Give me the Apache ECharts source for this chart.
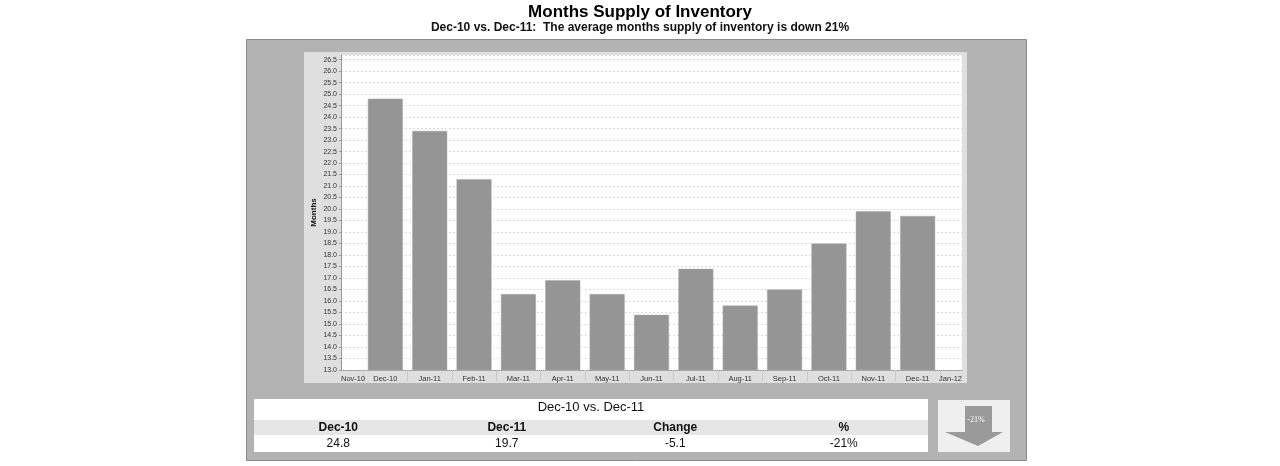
<!DOCTYPE html>
<html>
<head>
<meta charset="utf-8">
<script src="https://cdn.jsdelivr.net/npm/echarts@6/dist/echarts.min.js"></script>
<style>
html,body{margin:0;padding:0;background:#ffffff;}
#chart{width:1280px;height:466px;}
</style>
</head>
<body>
<div id="chart"></div>
<script>
// ---- data ----
const months = ['Nov-10','Dec-10','Jan-11','Feb-11','Mar-11','Apr-11','May-11','Jun-11','Jul-11','Aug-11','Sep-11','Oct-11','Nov-11','Dec-11','Jan-12'];
const supply = [null, 24.8, 23.4, 21.3, 16.3, 16.9, 16.3, 15.4, 17.4, 15.8, 16.5, 18.5, 19.9, 19.7, null];
const titleText = 'Months Supply of Inventory';
const subtitleText = 'Dec-10 vs. Dec-11:  The average months supply of inventory is down 21%';
const yAxisName = 'Months';
const tableTitle = 'Dec-10 vs. Dec-11';
const tableHeaders = ['Dec-10', 'Dec-11', 'Change', '%'];
const tableValues = ['24.8', '19.7', '-5.1', '-21%'];
const arrowLabel = '-21%';

const chart = echarts.init(document.getElementById('chart'));

const barData = [];
supply.forEach((v, i) => { if (v !== null) barData.push([i, v]); });

const tableLeft = 254, tableWidth = 674, colW = tableWidth / tableHeaders.length;
const graphics = [
  // outer panel
  { type: 'rect', z: -10, shape: { x: 246.5, y: 39.5, width: 780, height: 421 }, style: { fill: '#b3b3b3', stroke: '#8a8a8a', lineWidth: 1 } },
  // chart panel
  { type: 'rect', z: -9, shape: { x: 304, y: 52, width: 663, height: 331 }, style: { fill: '#dfdfdf' } },
  // table rows
  { type: 'rect', z: -9, shape: { x: tableLeft, y: 399, width: tableWidth, height: 21 }, style: { fill: '#ffffff' } },
  { type: 'rect', z: -9, shape: { x: tableLeft, y: 420, width: tableWidth, height: 15 }, style: { fill: '#e6e6e6' } },
  { type: 'rect', z: -9, shape: { x: tableLeft, y: 435, width: tableWidth, height: 17 }, style: { fill: '#ffffff' } },
  // arrow box
  { type: 'rect', z: -9, shape: { x: 938, y: 400, width: 72, height: 52 }, style: { fill: '#efefef' } },
  { type: 'polygon', z: -8, shape: { points: [[965,406],[992,406],[992,432],[1003,432],[978,446],[945,432],[965,432]] }, style: { fill: '#9a9a9a' } },
  { type: 'text', z: -7, style: { text: arrowLabel, x: 976, y: 420, fill: '#ffffff', font: '8px "Liberation Serif"', align: 'center', verticalAlign: 'middle' } },
  { type: 'text', z: -7, style: { text: tableTitle, x: tableLeft + tableWidth / 2, y: 407, fill: '#111', font: '13px "Liberation Sans"', align: 'center', verticalAlign: 'middle' } }
];
tableHeaders.forEach((h, i) => {
  graphics.push({ type: 'text', z: -7, style: { text: h, x: tableLeft + colW * (i + 0.5), y: 428, fill: '#111', font: 'bold 12px "Liberation Sans"', align: 'center', verticalAlign: 'middle' } });
});
tableValues.forEach((v, i) => {
  graphics.push({ type: 'text', z: -7, style: { text: v, x: tableLeft + colW * (i + 0.5), y: 444, fill: '#111', font: '12px "Liberation Sans"', align: 'center', verticalAlign: 'middle' } });
});

chart.setOption({
  animation: false,
  backgroundColor: '#ffffff',
  title: [
    { text: titleText, left: 'center', top: 4, padding: 0, textStyle: { fontFamily: 'Liberation Sans', fontWeight: 'bold', fontSize: 17, color: '#000' } },
    { text: subtitleText, left: 'center', top: 22, padding: 0, textStyle: { fontFamily: 'Liberation Sans', fontWeight: 'bold', fontSize: 12, color: '#111' } }
  ],
  grid: { left: 341, right: 318, top: 55, bottom: 96, show: true, backgroundColor: '#ffffff', borderWidth: 0 },
  xAxis: {
    type: 'value', min: 0, max: months.length - 1, interval: 1,
    splitLine: { show: false },
    axisLine: { show: true, lineStyle: { color: '#9a9a9a', type: 'dotted' } },
    axisTick: { show: false },
    minorTick: { show: true, splitNumber: 2, length: 11, lineStyle: { color: '#c8c8c8' } },
    axisLabel: {
      formatter: v => months[Math.round(v)] || '',
      fontFamily: 'Liberation Sans', fontSize: 7.5, color: '#333', margin: 5,
      alignMinLabel: 'left', alignMaxLabel: 'right'
    }
  },
  yAxis: {
    type: 'value', min: 13, max: 26.7, interval: 0.5,
    name: yAxisName, nameLocation: 'middle', nameGap: 23, nameRotate: 90,
    nameTextStyle: { fontFamily: 'Liberation Sans', fontWeight: 'bold', fontSize: 8, color: '#111' },
    axisLine: { show: true, lineStyle: { color: '#999' } },
    axisTick: { show: true, length: 2, lineStyle: { color: '#999' } },
    axisLabel: { formatter: v => v.toFixed(1), showMaxLabel: false, fontFamily: 'Liberation Sans', fontSize: 7, color: '#333', margin: 4 },
    splitLine: { show: true, lineStyle: { color: '#dcdcdc', type: [2, 2], width: 1 } }
  },
  series: [{
    type: 'bar', data: barData, barWidth: 35,
    itemStyle: { color: '#959595', borderColor: '#a8a8a8', borderWidth: 0.5 }
  }],
  graphic: graphics
});
</script>
</body>
</html>
